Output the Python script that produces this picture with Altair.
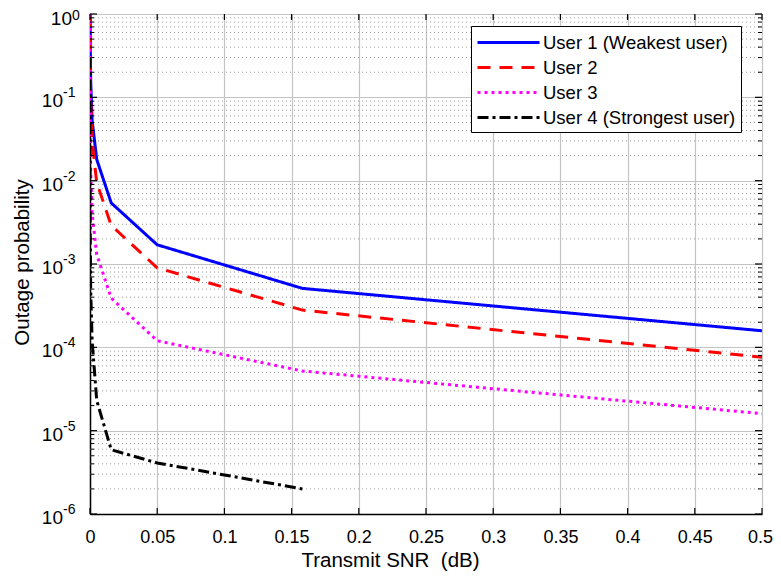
import altair as alt
import pandas as pd
import numpy as np

# ---- data ----
snr = [0.000005, 0.0000158, 0.00005, 0.000158, 0.0005, 0.00158, 0.005, 0.0158, 0.05, 0.158, 0.5]
user1 = [1.0, 1.0, 1.0, 0.5, 0.16, 0.053, 0.018, 0.0054, 0.0017, 0.00051, 0.000158]
user2 = [1.0, 1.0, 0.95, 0.3, 0.095, 0.03, 0.0095, 0.0029, 0.0009, 0.00028, 0.000076]
user3 = [1.0, 0.4, 0.13, 0.04, 0.013, 0.004, 0.0013, 0.00039, 0.00012, 0.000052, 0.000016]
user4 = [0.3, 0.06, 0.012, 0.0025, 0.0005, 0.00012, 0.000023, 0.0000059, 0.0000041, 0.000002, None]

names = ["User 1 (Weakest user)", "User 2", "User 3", "User 4 (Strongest user)"]
colors = ["#0000FF", "#FF0000", "#FF00FF", "#000000"]
dashes = [[1, 0], [13, 9], [3, 4], [11, 4, 3, 4]]

x_ticks = [0, 0.05, 0.1, 0.15, 0.2, 0.25, 0.3, 0.35, 0.4, 0.45, 0.5]
exps = [0, -1, -2, -3, -4, -5, -6]

W, H = 672, 500

rows = []
for name, ys_ in zip(names, [user1, user2, user3, user4]):
    for x, y in zip(snr, ys_):
        if y is not None:
            rows.append({"snr": x, "p": y, "user": name})
df = pd.DataFrame(rows)

decades = [10.0 ** e for e in exps]
minor = [m * 10.0 ** e for e in range(-6, 0) for m in range(2, 10)]
minor_df = pd.DataFrame({"v": minor})
major_df = pd.DataFrame({"v": decades})
lab_df = pd.DataFrame({"v": decades, "base": ["10"] * len(exps), "exp": [str(e) for e in exps], "e": exps})
xt_df = pd.DataFrame({"x": x_ticks})

xs = alt.Scale(domain=[0, 0.5], nice=False, zero=False)
ys = alt.Scale(type="log", domain=[1e-6, 1], nice=False)

x_axis = alt.Axis(
    values=x_ticks, format="~g", title="Transmit SNR\u00a0 (dB)", grid=True,
    gridColor="#c4c4c4", gridWidth=1.2, ticks=False, tickSize=0,
    labelFontSize=18, labelPadding=14, titleFontSize=20.5,
    labelOffset={"condition": {"test": "datum.value >= 0.5", "value": -2}, "value": 0},
    titleX=300, titleY=52, titleAlign="center", titleBaseline="alphabetic",
    titleFontWeight="normal", labelFont="Liberation Sans", titleFont="Liberation Sans",
    domainColor="black", domainWidth=1.5, labelColor="black", titleColor="black",
    labelFlush=False)
y_axis = alt.Axis(
    values=decades, labels=False, ticks=False, tickSize=0, grid=True,
    gridColor="#c4c4c4", gridWidth=1.2, title="Outage probability",
    titleFontSize=20.5, titleFontWeight="normal", titleFont="Liberation Sans",
    titleColor="black", titleX=-68, titleY=248, titleBaseline="middle",
    domainColor="black", domainWidth=1.5)

def Y(field):
    return alt.Y(field, scale=ys, axis=y_axis)

def X(field):
    return alt.X(field, scale=xs, axis=x_axis)

leg = alt.Legend(
    title=None, orient="none", legendX=381, legendY=12, symbolType="M-1,0H5.2",
    symbolSize=400, symbolStrokeWidth=3, labelFontSize=18.5, labelFont="Liberation Sans",
    labelColor="black", strokeColor="black", fillColor="white", padding=5,
    cornerRadius=0, rowPadding=4, labelOffset=44, labelLimit=400,
    labelExpr="datum.label + '\u00a0\u00a0'")

grid_minor = alt.Chart(minor_df).mark_rule(color="#9a9a9a", strokeDash=[1, 3], strokeWidth=1).encode(
    y=Y("v:Q"), x=alt.value(0), x2=alt.value(W)
)

lines = alt.Chart(df).mark_line(strokeWidth=3, clip=True).encode(
    x=X("snr:Q"),
    y=Y("p:Q"),
    color=alt.Color("user:N", scale=alt.Scale(domain=names, range=colors), legend=leg),
    strokeDash=alt.StrokeDash("user:N", scale=alt.Scale(domain=names, range=dashes), legend=leg),
)

# inward ticks (MATLAB style)
yt_major_l = alt.Chart(major_df).mark_rule(color="black", strokeWidth=1.2).encode(
    y=Y("v:Q"), x=alt.value(0), x2=alt.value(7))
yt_major_r = alt.Chart(major_df).mark_rule(color="black", strokeWidth=1.2).encode(
    y=Y("v:Q"), x=alt.value(W - 7), x2=alt.value(W))
yt_minor_l = alt.Chart(minor_df).mark_rule(color="black", strokeWidth=1).encode(
    y=Y("v:Q"), x=alt.value(0), x2=alt.value(4))
yt_minor_r = alt.Chart(minor_df).mark_rule(color="black", strokeWidth=1).encode(
    y=Y("v:Q"), x=alt.value(W - 4), x2=alt.value(W))
xt_b = alt.Chart(xt_df).mark_rule(color="black", strokeWidth=1.2).encode(
    x=X("x:Q"), y=alt.value(H - 6), y2=alt.value(H))
xt_t = alt.Chart(xt_df).mark_rule(color="black", strokeWidth=1.2).encode(
    x=X("x:Q"), y=alt.value(0), y2=alt.value(6))

# y tick labels 10^e
lab0 = alt.Chart(lab_df).transform_filter("datum.e == 0")
labn = alt.Chart(lab_df).transform_filter("datum.e != 0")
tb = dict(font="Liberation Sans", color="black")
base0 = lab0.mark_text(align="right", baseline="middle", fontSize=19, dy=5, **tb).encode(
    y=Y("v:Q"), x=alt.value(-18), text="base:N")
exp0 = lab0.mark_text(align="left", baseline="middle", fontSize=14, dy=2, **tb).encode(
    y=Y("v:Q"), x=alt.value(-18), text="exp:N")
basen = labn.mark_text(align="right", baseline="middle", fontSize=19, dy=4, **tb).encode(
    y=Y("v:Q"), x=alt.value(-27), text="base:N")
expn = labn.mark_text(align="left", baseline="middle", fontSize=14, dy=-4, **tb).encode(
    y=Y("v:Q"), x=alt.value(-27), text="exp:N")

chart = alt.layer(
    grid_minor, lines, yt_major_l, yt_major_r, yt_minor_l, yt_minor_r, xt_b, xt_t,
    base0, exp0, basen, expn
).properties(
    width=W, height=H,
    autosize=alt.AutoSizeParams(type="none"),
    padding={"left": 82, "top": 6, "right": 11, "bottom": 57},
).configure_view(stroke="black", strokeWidth=1.5).configure(background="white")

chart.save("out.html", embed_options={"renderer": "svg", "actions": False})
